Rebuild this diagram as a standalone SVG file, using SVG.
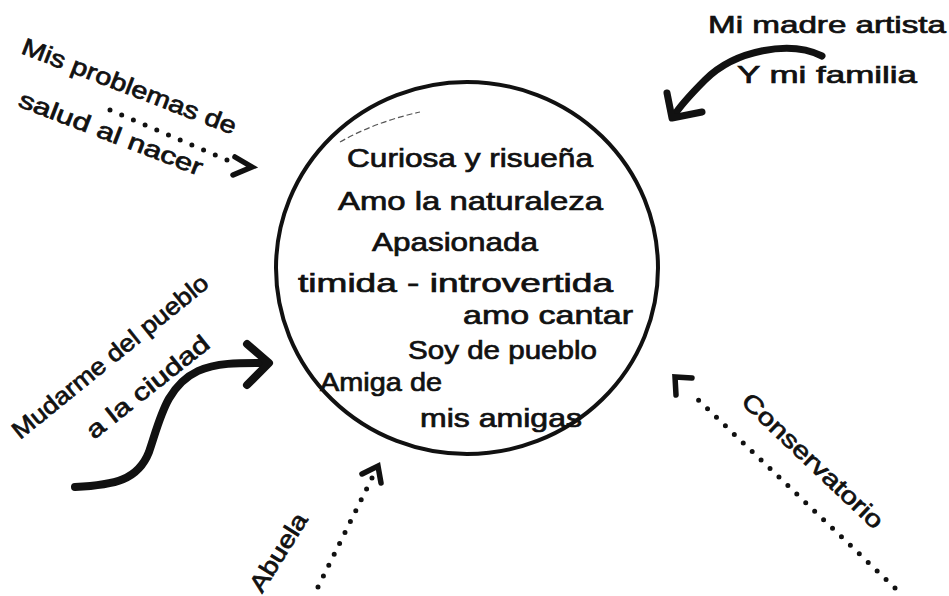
<svg xmlns="http://www.w3.org/2000/svg" width="949" height="596" viewBox="0 0 949 596">
<defs>
<style>
.t{font-family:"Liberation Sans","Noto Sans",Arial,sans-serif;font-size:26px;fill:#111;stroke:#111;stroke-width:0.7;}
.s{font-family:"Liberation Sans","Noto Sans",Arial,sans-serif;font-size:24px;fill:#111;stroke:#111;stroke-width:0.7;}
.thick{fill:none;stroke:#111;stroke-linecap:round;stroke-linejoin:round;}
.dots{fill:none;stroke:#111;stroke-width:5;stroke-linecap:round;}
.chev{fill:none;stroke:#111;stroke-width:5.5;stroke-linecap:round;stroke-linejoin:miter;}
</style>
</defs>
<rect width="949" height="596" fill="#fff"/>

<g id="center">
<ellipse cx="467" cy="268" rx="191" ry="186" fill="none" stroke="#111" stroke-width="4"/>
<path d="M340,142 Q375,122 420,112" fill="none" stroke="#555" stroke-width="1.2" stroke-dasharray="6 3"/>
<text class="t" x="347" y="167" textLength="246" lengthAdjust="spacingAndGlyphs">Curiosa y risueña</text>
<text class="t" x="338" y="210" textLength="265" lengthAdjust="spacingAndGlyphs">Amo la naturaleza</text>
<text class="t" x="372" y="251" textLength="166" lengthAdjust="spacingAndGlyphs">Apasionada</text>
<text class="t" x="298" y="292" textLength="315" lengthAdjust="spacingAndGlyphs">timida - introvertida</text>
<text class="t" x="463" y="324" textLength="170" lengthAdjust="spacingAndGlyphs">amo cantar</text>
<text class="t" x="408" y="359" textLength="189" lengthAdjust="spacingAndGlyphs">Soy de pueblo</text>
<text class="t" x="320" y="391" textLength="122" lengthAdjust="spacingAndGlyphs">Amiga de</text>
<text class="t" x="420" y="427" textLength="162" lengthAdjust="spacingAndGlyphs">mis amigas</text>
</g>

<g id="salud">
<text class="s" transform="translate(20,53) rotate(21)" textLength="228" lengthAdjust="spacingAndGlyphs">Mis problemas de</text>
<text class="s" transform="translate(17,106) rotate(21)" textLength="195" lengthAdjust="spacingAndGlyphs">salud al nacer</text>
</g>

<g id="madre">
<text class="s" x="708" y="33" textLength="238" lengthAdjust="spacingAndGlyphs">Mi madre artista</text>
<text class="s" x="737" y="83" textLength="180" lengthAdjust="spacingAndGlyphs">Y mi familia</text>
</g>

<g id="mudarme">
<text class="s" transform="translate(20,440) rotate(-39)" textLength="245" lengthAdjust="spacingAndGlyphs">Mudarme del pueblo</text>
<text class="s" transform="translate(94,440) rotate(-38.5)" textLength="150" lengthAdjust="spacingAndGlyphs">a la ciudad</text>
</g>

<g id="abuela">
<text class="s" transform="translate(262,594) rotate(-58)" textLength="88" lengthAdjust="spacingAndGlyphs">Abuela</text>
</g>

<g id="conservatorio">
<text class="s" transform="translate(740,403) rotate(43.5)" textLength="185" lengthAdjust="spacingAndGlyphs">Conservatorio</text>
</g>

<g id="connectors">
<line class="dots" x1="110" y1="110" x2="227" y2="160" stroke-dasharray="0 12.72"/>
<polyline class="chev" points="235,157 252,167 233,175"/>
<path class="thick" stroke-width="7" d="M822,56 C790,40 735,50 705,80 C690,95 680,106 673,117"/>
<polyline class="thick" stroke-width="7" points="667,93 672,118 702,112"/>
<path class="thick" stroke-width="8" d="M75,487 C115,485 138,480 149,452 C160,420 166,386 198,371 C218,362 243,363 267,363"/>
<polyline class="thick" stroke-width="8" points="247,344 269,363 247,385"/>
<line class="dots" x1="318" y1="587" x2="372" y2="478" stroke-dasharray="0 12.16"/>
<polyline class="chev" points="362,474 378,466 381,483"/>
<line class="dots" x1="895" y1="588" x2="690" y2="392" stroke-dasharray="0 12.35"/>
<polyline class="chev" points="692,378 675,377 676,395"/>
</g>
</svg>
